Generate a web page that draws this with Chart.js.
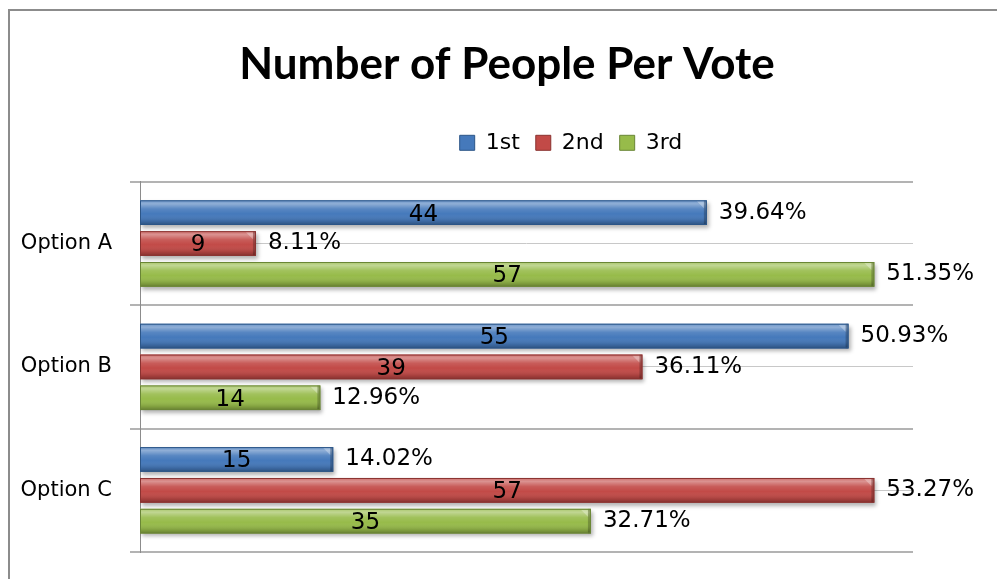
<!DOCTYPE html>
<html>
<head>
<meta charset="utf-8">
<script src="https://cdn.jsdelivr.net/npm/chart.js@4.4.1/dist/chart.umd.min.js"></script>
<style>
  html, body { margin: 0; padding: 0; background: #fff; overflow: hidden; }
  #frame { position: absolute; left: 8px; top: 9px; width: 1010px; height: 600px;
           border-left: 2px solid #8c8c8c; border-top: 2px solid #8c8c8c; }
  #voteChart { display: block; }
</style>
</head>
<body>
<div id="frame"><canvas id="voteChart" width="994" height="600"></canvas></div>
<script>
const options = ['Option A', 'Option B', 'Option C'];
const ranks = ['1st', '2nd', '3rd'];
const firstVotes = [44, 55, 15];
const secondVotes = [9, 39, 57];
const thirdVotes = [57, 14, 35];
const firstPct = ['39.64%', '50.93%', '14.02%'];
const secondPct = ['8.11%', '36.11%', '53.27%'];
const thirdPct = ['51.35%', '12.96%', '32.71%'];
const axisMax = 60;

const colors = ['#4579bb', '#c24a47', '#97bb4a'];
const edges = ['#2c5688', '#8a3230', '#6a8636'];
const pctLabels = [firstPct, secondPct, thirdPct];

// bar shadow + bevel shading + labels (no datalabels plugin offline)
const barLook = {
  id: 'barLook',
  beforeDatasetsDraw(chart) {
    const ctx = chart.ctx;
    ctx.save();
    ctx.shadowColor = 'rgba(0,0,0,0.3)';
    ctx.shadowBlur = 4;
    ctx.shadowOffsetX = 2;
    ctx.shadowOffsetY = 3;
  },
  afterDatasetsDraw(chart) {
    const ctx = chart.ctx;
    ctx.restore();
    chart.data.datasets.forEach((ds, di) => {
      const meta = chart.getDatasetMeta(di);
      meta.data.forEach((bar, i) => {
        const { x, y, base, height } = bar.getProps(['x', 'y', 'base', 'height'], true);
        const top = y - height / 2;
        const g = ctx.createLinearGradient(0, top, 0, top + height);
        g.addColorStop(0, 'rgba(255,255,255,0.20)');
        g.addColorStop(0.14, 'rgba(255,255,255,0.40)');
        g.addColorStop(0.35, 'rgba(255,255,255,0.10)');
        g.addColorStop(0.55, 'rgba(255,255,255,0)');
        g.addColorStop(0.85, 'rgba(0,0,0,0.14)');
        g.addColorStop(1, 'rgba(0,0,0,0.32)');
        ctx.fillStyle = g;
        ctx.fillRect(base, top, x - base, height);
        // bevelled right end
        ctx.fillStyle = 'rgba(0,0,0,0.22)';
        ctx.fillRect(x - 3, top, 3, height);
        ctx.beginPath();
        ctx.moveTo(x - 3, top + 1);
        ctx.lineTo(x - 10, top + 1);
        ctx.lineTo(x - 3, top + 8);
        ctx.closePath();
        ctx.fillStyle = 'rgba(255,255,255,0.3)';
        ctx.fill();
        ctx.strokeStyle = edges[di];
        ctx.lineWidth = 1;
        ctx.strokeRect(base + 0.5, top + 0.5, x - base - 1, height - 1);

        ctx.font = '23px "DejaVu Sans"';
        ctx.fillStyle = '#000';
        ctx.textBaseline = 'middle';
        ctx.textAlign = 'center';
        ctx.fillText(String(ds.data[i]), (base + x) / 2, y + 2);
        ctx.textAlign = 'left';
        ctx.fillText(pctLabels[di][i], x + 12, y);
      });
    });
  },
  afterLayout(chart) {
    // legend sits right of centre in the original
    chart.legend.left += 64;
    chart.legend.right += 64;
  }
};

const spacer = size => ({
  type: 'linear',
  display: true,
  grid: { display: false },
  border: { display: false },
  ticks: { display: false },
  afterFit: s => { if (s.isHorizontal()) s.height = size; else s.width = size; }
});

new Chart(document.getElementById('voteChart'), {
  type: 'bar',
  data: {
    labels: options,
    datasets: [
      { label: ranks[0], data: firstVotes, backgroundColor: colors[0] },
      { label: ranks[1], data: secondVotes, backgroundColor: colors[1] },
      { label: ranks[2], data: thirdVotes, backgroundColor: colors[2] }
    ]
  },
  options: {
    indexAxis: 'y',
    responsive: false,
    devicePixelRatio: 1,
    animation: false,
    categoryPercentage: 0.75,
    barPercentage: 0.8,
    layout: { padding: { left: 0, right: 0, top: 0, bottom: 59 } },
    scales: {
      x: { type: 'linear', min: 0, max: axisMax, display: false },
      y: {
        offset: true,
        grid: { offset: true, color: '#b3b3b3', lineWidth: 2, tickLength: 10 },
        border: { display: true, color: '#8c8c8c', width: 1 },
        ticks: { font: { family: 'DejaVu Sans', size: 21 }, color: '#000', padding: 18 },
        afterFit: s => { s.width = 130; }
      },
      y2: {
        type: 'category',
        position: 'left',
        labels: options,
        offset: true,
        grid: { offset: false, drawTicks: false, color: '#c8c8c8', lineWidth: 1 },
        border: { display: false },
        ticks: { display: false },
        afterFit: s => { s.width = 0; }
      },
      gapTop: Object.assign(spacer(18), { position: 'top', axis: 'x' }),
      gapRight: Object.assign(spacer(91), { position: 'right', axis: 'y' })
    },
    plugins: {
      title: {
        display: true,
        text: 'Number of People Per Vote',
        color: '#000',
        font: { family: 'Lato', size: 44, weight: 'bold' },
        padding: { top: 27, bottom: 25 }
      },
      legend: {
        position: 'top',
        labels: {
          font: { family: 'DejaVu Sans', size: 22 },
          color: '#000',
          boxWidth: 15,
          boxHeight: 15,
          padding: 16,
          generateLabels: chart => Chart.defaults.plugins.legend.labels.generateLabels(chart)
            .map((item, i) => Object.assign(item, { strokeStyle: edges[i], lineWidth: 1 }))
        }
      },
      tooltip: { enabled: false }
    }
  },
  plugins: [barLook]
});
</script>
</body>
</html>
